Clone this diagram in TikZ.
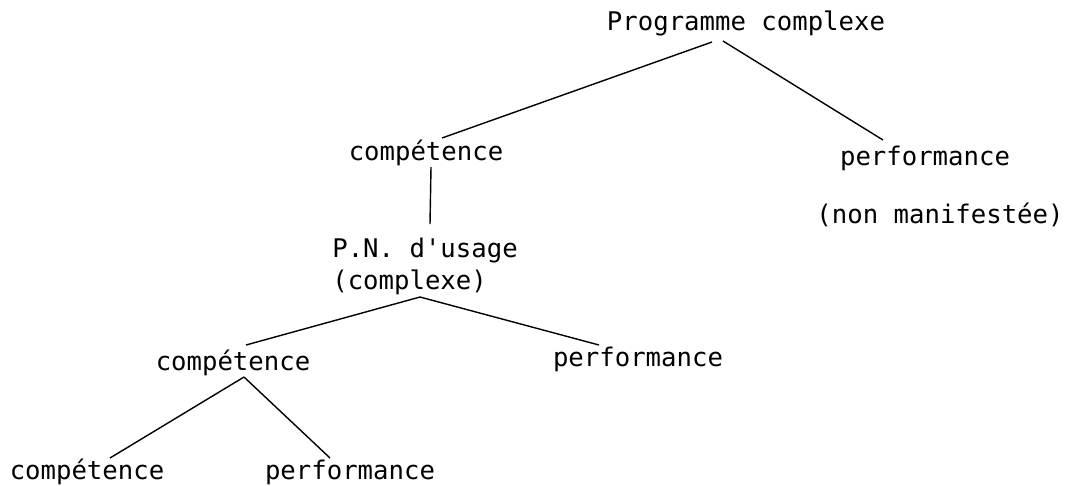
\documentclass[tikz,border=0pt]{standalone}
\usepackage{fontspec}
\setmonofont{DejaVu Sans Mono}
\usetikzlibrary{calc}

\tikzset{
  lbl/.style={font=\ttfamily\fontsize{14.6}{18.2}\selectfont, inner sep=0pt, anchor=base},
  branch/.style={line width=0.8pt}
}

\begin{document}
\begin{tikzpicture}[x=0.2mm, y=-0.2mm]
		\useasboundingbox (0,0) rectangle (1074,485);

		% Add the root of the tree
		\node[lbl] (prog) at (746,30) {Programme complexe};

		% Add the first level
		\node[lbl] (comp1) at (426,160) {compétence};
		\node[lbl] (perf1) at (925,165) {performance};
		\node[lbl] (nonm) at (940,223) {(non manifestée)};

		% Add the P.N. node (base is its last line)
		\node[lbl, anchor=base west, align=left] (pn) at (332,289) {P.N. d'usage\\(complexe)};

		% Add the second level
		\node[lbl] (comp2) at (233,370) {compétence};
		\node[lbl] (perf2) at (638,366) {performance};

		% Add the third level
		\node[lbl] (comp3) at (87,479) {compétence};
		\node[lbl] (perf3) at (350,479) {performance};

		% Draw the branches
		\draw[branch] ($(prog.base)+(-34,12)$) -- ($(comp1.base)+(16,-22)$);
		\draw[branch] ($(prog.base)+(-23,11)$) -- ($(perf1.base)+(-42,-25)$);
		\draw[branch] ($(comp1.base)+(5,7)$) -- ($(pn.base west)+(98,-65)$);
		\draw[branch] ($(pn.base west)+(88,8)$) -- ($(comp2.base)+(13,-25)$);
		\draw[branch] ($(pn.base west)+(88,8)$) -- ($(perf2.base)+(-39,-21)$);
		\draw[branch] ($(comp2.base)+(11,7)$) -- ($(comp3.base)+(23,-21)$);
		\draw[branch] ($(comp2.base)+(11,7)$) -- ($(perf3.base)+(-20,-21)$);

	\end{tikzpicture}
\end{document}
